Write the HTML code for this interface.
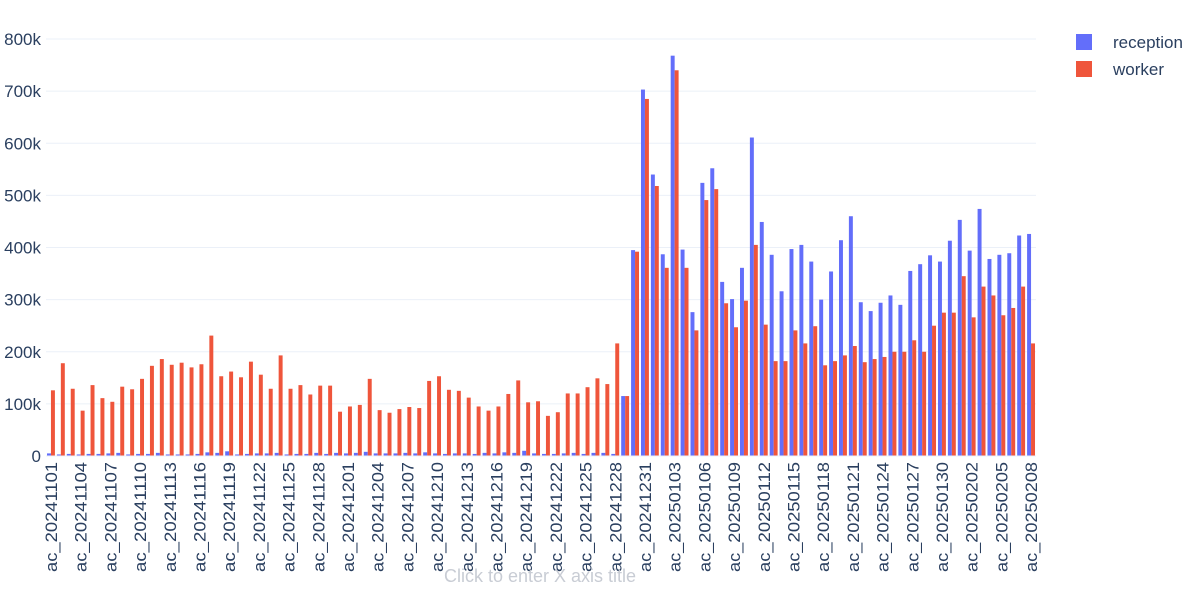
<!DOCTYPE html>
<html><head><meta charset="utf-8"><style>
body{margin:0;background:#fff;width:1200px;height:584px;overflow:hidden;font-family:"Liberation Sans",sans-serif}
</style></head><body>
<svg id="s" width="1200" height="584" xmlns="http://www.w3.org/2000/svg" font-family="Liberation Sans, sans-serif"></svg>
<script>
const red=[126,178,129,87,136,111,104,133,128,148,173,186,175,179,170,176,231,153,162,151,181,156,129,193,129,136,118,135,135,85,95,98,148,88,83,90,94,92,144,153,127,125,112,95,87,95,119,145,103,105,77,84,120,120,132,149,138,216,115,392,685,518,361,740,361,241,491,512,293,247,298,405,252,182,182,241,216,249,174,182,193,211,180,186,190,200,200,222,200,250,275,275,345,266,325,308,270,284,325,216];
const blue=[5,3,4,3,4,4,5,6,3,4,4,6,3,3,3,4,7,6,9,3,4,5,5,6,3,4,4,6,4,6,5,6,8,5,5,5,6,5,7,5,4,5,5,4,6,5,7,6,10,5,4,4,5,6,4,6,6,4,115,395,703,540,387,768,396,276,524,552,334,301,361,611,449,386,316,397,405,373,300,354,414,460,295,278,294,308,290,355,368,385,373,413,453,394,474,378,386,389,423,426];
const y0=456,k=417/800,x0=46,slot=9.9;
let h='';
for(let v=100;v<=800;v+=100){const y=y0-v*k;h+=`<line x1="${x0}" x2="1036" y1="${y}" y2="${y}" stroke="#ebf0f8" stroke-width="1"/>`;}
for(let v=0;v<=800;v+=100){const y=y0-v*k;h+=`<text x="41" y="${y+6}" text-anchor="end" font-size="17" fill="#2a3f5f">${v?v+'k':'0'}</text>`;}
const start=new Date(Date.UTC(2024,10,1));
for(let i=0;i<100;i++){
 const c=x0+slot*(i+0.5);
 const bh=blue[i]*k,rh=red[i]*k;
 h+=`<rect x="${c-3.96}" y="${y0-bh}" width="3.96" height="${bh}" fill="#636efa"/>`;
 h+=`<rect x="${c}" y="${y0-rh}" width="3.96" height="${rh}" fill="#ef553b"/>`;
 if(i%3==0){const d=new Date(start.getTime()+i*864e5);
  const s='ac_'+d.getUTCFullYear()+String(d.getUTCMonth()+1).padStart(2,'0')+String(d.getUTCDate()).padStart(2,'0');
  h+=`<text transform="translate(${c+6},462) rotate(-90)" text-anchor="end" font-size="17" textLength="110" lengthAdjust="spacingAndGlyphs" fill="#2a3f5f">${s}</text>`;}
}
h+=`<line x1="${x0}" x2="1036" y1="${y0}" y2="${y0}" stroke="#ebf0f8"/>`;
h+=`<rect x="1076" y="34" width="16" height="16" fill="#636efa"/><text x="1113" y="48" font-size="17" fill="#2a3f5f">reception</text>`;
h+=`<rect x="1076" y="61" width="16" height="16" fill="#ef553b"/><text x="1113" y="75" font-size="17" fill="#2a3f5f">worker</text>`;
h+=`<text x="540" y="582" text-anchor="middle" font-size="18" fill="#c8ccd4">Click to enter X axis title</text>`;
document.getElementById('s').innerHTML=h;
</script>
</body></html>
